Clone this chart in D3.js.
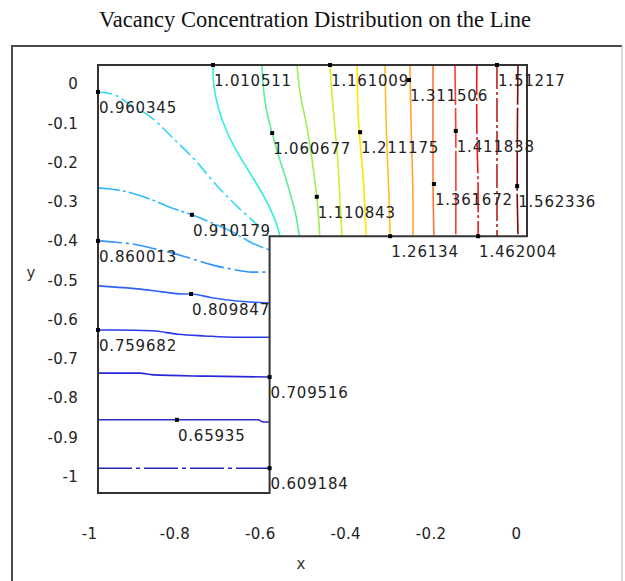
<!DOCTYPE html>
<html>
<head>
<meta charset="utf-8">
<script src="https://cdn.jsdelivr.net/npm/d3@7/dist/d3.min.js"></script>
<style>
  html, body { margin: 0; padding: 0; background: #ffffff; }
  svg { display: block; }
</style>
</head>
<body>
<div id="chart"></div>
<script>
// ---------------- data ----------------
const titleText = "Vacancy Concentration Distribution on the Line";
const xTicks = [-1, -0.8, -0.6, -0.4, -0.2, 0];
const xTickLabels = ["-1", "-0.8", "-0.6", "-0.4", "-0.2", "0"];
const yTicks = [0, -0.1, -0.2, -0.3, -0.4, -0.5, -0.6, -0.7, -0.8, -0.9, -1];
const yTickLabels = ["0", "-0.1", "-0.2", "-0.3", "-0.4", "-0.5", "-0.6", "-0.7", "-0.8", "-0.9", "-1"];

// L-shaped region boundary
const regionCorners = [[-1, 0], [0, 0], [0, -0.4], [-0.6, -0.4], [-0.6, -1], [-1, -1]];

// contour levels and their label texts
const levels = [0.609184, 0.65935, 0.709516, 0.759682, 0.809847, 0.860013, 0.910179, 0.960345,
  1.010511, 1.060677, 1.110843, 1.161009, 1.211175, 1.26134, 1.311506, 1.361672,
  1.411838, 1.462004, 1.51217, 1.562336];
const levelLabels = ["0.609184", "0.65935", "0.709516", "0.759682", "0.809847", "0.860013",
  "0.910179", "0.960345", "1.010511", "1.060677", "1.110843", "1.161009", "1.211175",
  "1.26134", "1.311506", "1.361672", "1.411838", "1.462004", "1.51217", "1.562336"];

// contour polylines (x, y)
const contourLines = [
  [[-1, -0.942], [-0.6, -0.942]],
  [[-1, -0.829], [-0.816, -0.829], [-0.627, -0.829], [-0.615, -0.834], [-0.6, -0.834]],
  [[-1, -0.720], [-0.902, -0.720], [-0.872, -0.724], [-0.746, -0.727], [-0.6, -0.729]],
  [[-1, -0.619], [-0.960, -0.619], [-0.874, -0.621], [-0.814, -0.629], [-0.751, -0.633], [-0.681, -0.636], [-0.6, -0.636]],
  [[-1, -0.516], [-0.960, -0.519], [-0.907, -0.523], [-0.851, -0.530], [-0.804, -0.535], [-0.783, -0.535], [-0.734, -0.544], [-0.681, -0.551], [-0.6, -0.556]],
  [[-1, -0.411], [-0.960, -0.414], [-0.921, -0.418], [-0.874, -0.428], [-0.828, -0.439], [-0.781, -0.453], [-0.734, -0.467], [-0.688, -0.477], [-0.641, -0.484], [-0.6, -0.484]],
  [[-1, -0.287], [-0.977, -0.289], [-0.930, -0.297], [-0.874, -0.315], [-0.828, -0.334], [-0.781, -0.350], [-0.734, -0.369], [-0.681, -0.393], [-0.641, -0.416], [-0.6, -0.432]],
  [[-1, -0.063], [-0.960, -0.070], [-0.930, -0.089], [-0.874, -0.124], [-0.828, -0.168], [-0.774, -0.222], [-0.720, -0.285], [-0.674, -0.332], [-0.634, -0.369], [-0.604, -0.400]],
  [[-0.732, 0], [-0.730, -0.047], [-0.720, -0.098], [-0.699, -0.157], [-0.674, -0.206], [-0.646, -0.252], [-0.615, -0.304], [-0.594, -0.346], [-0.583, -0.374], [-0.576, -0.4]],
  [[-0.618, 0], [-0.615, -0.047], [-0.611, -0.082], [-0.604, -0.121], [-0.594, -0.159], [-0.583, -0.199], [-0.571, -0.238], [-0.559, -0.276], [-0.548, -0.315], [-0.538, -0.355], [-0.531, -0.4]],
  [[-0.536, 0], [-0.529, -0.065], [-0.513, -0.145], [-0.501, -0.222], [-0.490, -0.308], [-0.483, -0.4]],
  [[-0.459, 0], [-0.455, -0.065], [-0.448, -0.145], [-0.441, -0.222], [-0.436, -0.315], [-0.431, -0.4]],
  [[-0.396, 0], [-0.394, -0.105], [-0.389, -0.182], [-0.382, -0.262], [-0.375, -0.4]],
  [[-0.331, 0], [-0.329, -0.105], [-0.326, -0.206], [-0.322, -0.299], [-0.319, -0.4]],
  [[-0.273, 0], [-0.270, -0.145], [-0.266, -0.299], [-0.266, -0.4]],
  [[-0.219, 0], [-0.219, -0.276], [-0.217, -0.4]],
  [[-0.168, 0], [-0.166, -0.154], [-0.166, -0.4]],
  [[-0.117, 0], [-0.117, -0.145], [-0.114, -0.285], [-0.114, -0.4]],
  [[-0.070, 0], [-0.070, -0.4]],
  [[-0.021, 0], [-0.023, -0.283], [-0.021, -0.4]]
];

// label anchor points (x, y) for each level
const labelAnchors = [
  [-0.6, -0.942], [-0.816, -0.829], [-0.6, -0.729], [-1, -0.619], [-0.783, -0.535],
  [-1, -0.411], [-0.781, -0.350], [-1, -0.063], [-0.732, 0], [-0.594, -0.159],
  [-0.490, -0.308], [-0.459, 0], [-0.389, -0.157], [-0.319, -0.4], [-0.275, -0.035],
  [-0.217, -0.278], [-0.166, -0.154], [-0.114, -0.4], [-0.070, 0], [-0.023, -0.283]
];

const levelColors = ["#2626b4", "#2c2cc6", "#2828d6", "#2a3ae6", "#2f62f5", "#3393ff",
  "#33b8ff", "#33d8f2", "#33eede", "#5cee99", "#9eee55", "#ccee33", "#ffe600",
  "#ffc222", "#ffa433", "#ff7535", "#ff3a30", "#e81a1a", "#c01e1e", "#7a0c0c"];
const levelDash = ["34,4,4,4", "none", "none", "none", "none", "24,4,3,4",
  "22,3,3,3", "14,4,3,4", "none", "none", "none", "none", "none",
  "none", "none", "none", "40,3", "30,3,3,3", "24,3,3,3", "40,3"];

// ---------------- drawing ----------------
const W = 625, H = 581;
const svg = d3.select("#chart").append("svg").attr("width", W).attr("height", H);

// outer frame
svg.append("path").attr("d", "M12,600 L12,46 L622,46").attr("fill", "none")
  .attr("stroke", "#4a4a4a").attr("stroke-width", 2);
svg.append("line").attr("x1", 622).attr("y1", 46).attr("x2", 622).attr("y2", 600)
  .attr("stroke", "#b0b0b0").attr("stroke-width", 1);

// title
svg.append("text").attr("x", 315).attr("y", 27).attr("text-anchor", "middle")
  .attr("font-family", "'Liberation Serif', 'Times New Roman', serif")
  .attr("font-size", 22.5).attr("fill", "#111").text(titleText);

const x = d3.scaleLinear().domain([-1, 0]).range([98, 527]);
const y = d3.scaleLinear().domain([0, -1]).range([65, 493]);
const xLab = d3.scaleLinear().domain([-1, 0]).range([89, 516]);
const yLab = d3.scaleLinear().domain([0, -1]).range([84, 476.5]);

const font = "'DejaVu Sans', Verdana, sans-serif";

// axes (tick labels only)
const gx = svg.append("g").attr("transform", "translate(0,528)")
  .call(d3.axisBottom(xLab).tickValues(xTicks).tickSize(0)
    .tickFormat((d, i) => xTickLabels[i]));
gx.select(".domain").remove();
gx.selectAll("text").attr("font-family", font).attr("font-size", 15)
  .attr("letter-spacing", "0.3px").attr("fill", "#222").attr("dy", "0.71em").attr("y", 0);

const gy = svg.append("g").attr("transform", "translate(78,0)")
  .call(d3.axisLeft(yLab).tickValues(yTicks).tickSize(0)
    .tickFormat((d, i) => yTickLabels[i]));
gy.select(".domain").remove();
gy.selectAll("text").attr("font-family", font).attr("font-size", 15)
  .attr("letter-spacing", "0.3px").attr("fill", "#222").attr("x", 0);

svg.append("text").attr("x", 301).attr("y", 569).attr("text-anchor", "middle")
  .attr("font-family", font).attr("font-size", 15).attr("fill", "#333").text("x");
svg.append("text").attr("x", 31).attr("y", 278).attr("text-anchor", "middle")
  .attr("font-family", font).attr("font-size", 15).attr("fill", "#333").text("y");

// contour lines: horizontal-ish ones smoothed along x, others along the path
const lineH = d3.line().x(d => x(d[0])).y(d => y(d[1])).curve(d3.curveMonotoneX);
const lineV = d3.line().x(d => x(d[0])).y(d => y(d[1])).curve(d3.curveCatmullRom.alpha(0.5));
svg.append("g").selectAll("path").data(contourLines).join("path")
  .attr("d", (d, i) => (i <= 6 ? lineH(d) : lineV(d)))
  .attr("fill", "none")
  .attr("stroke", (d, i) => levelColors[i])
  .attr("stroke-width", 1.6)
  .attr("stroke-dasharray", (d, i) => levelDash[i]);

// region outline
const outline = d3.line().x(d => x(d[0])).y(d => y(d[1])).curve(d3.curveLinearClosed);
svg.append("path").attr("d", outline(regionCorners)).attr("fill", "none")
  .attr("stroke", "#333").attr("stroke-width", 2);

// markers
svg.append("g").selectAll("rect").data(labelAnchors).join("rect")
  .attr("x", d => x(d[0]) - 2).attr("y", d => y(d[1]) - 2)
  .attr("width", 4).attr("height", 4).attr("fill", "#000");

// labels
svg.append("g").selectAll("text").data(labelAnchors).join("text")
  .attr("x", d => x(d[0]) + 1).attr("y", d => y(d[1]) + 21)
  .attr("font-family", font).attr("font-size", 15).attr("letter-spacing", "0.8px")
  .attr("fill", "#222")
  .text((d, i) => levelLabels[i]);
</script>
</body>
</html>
